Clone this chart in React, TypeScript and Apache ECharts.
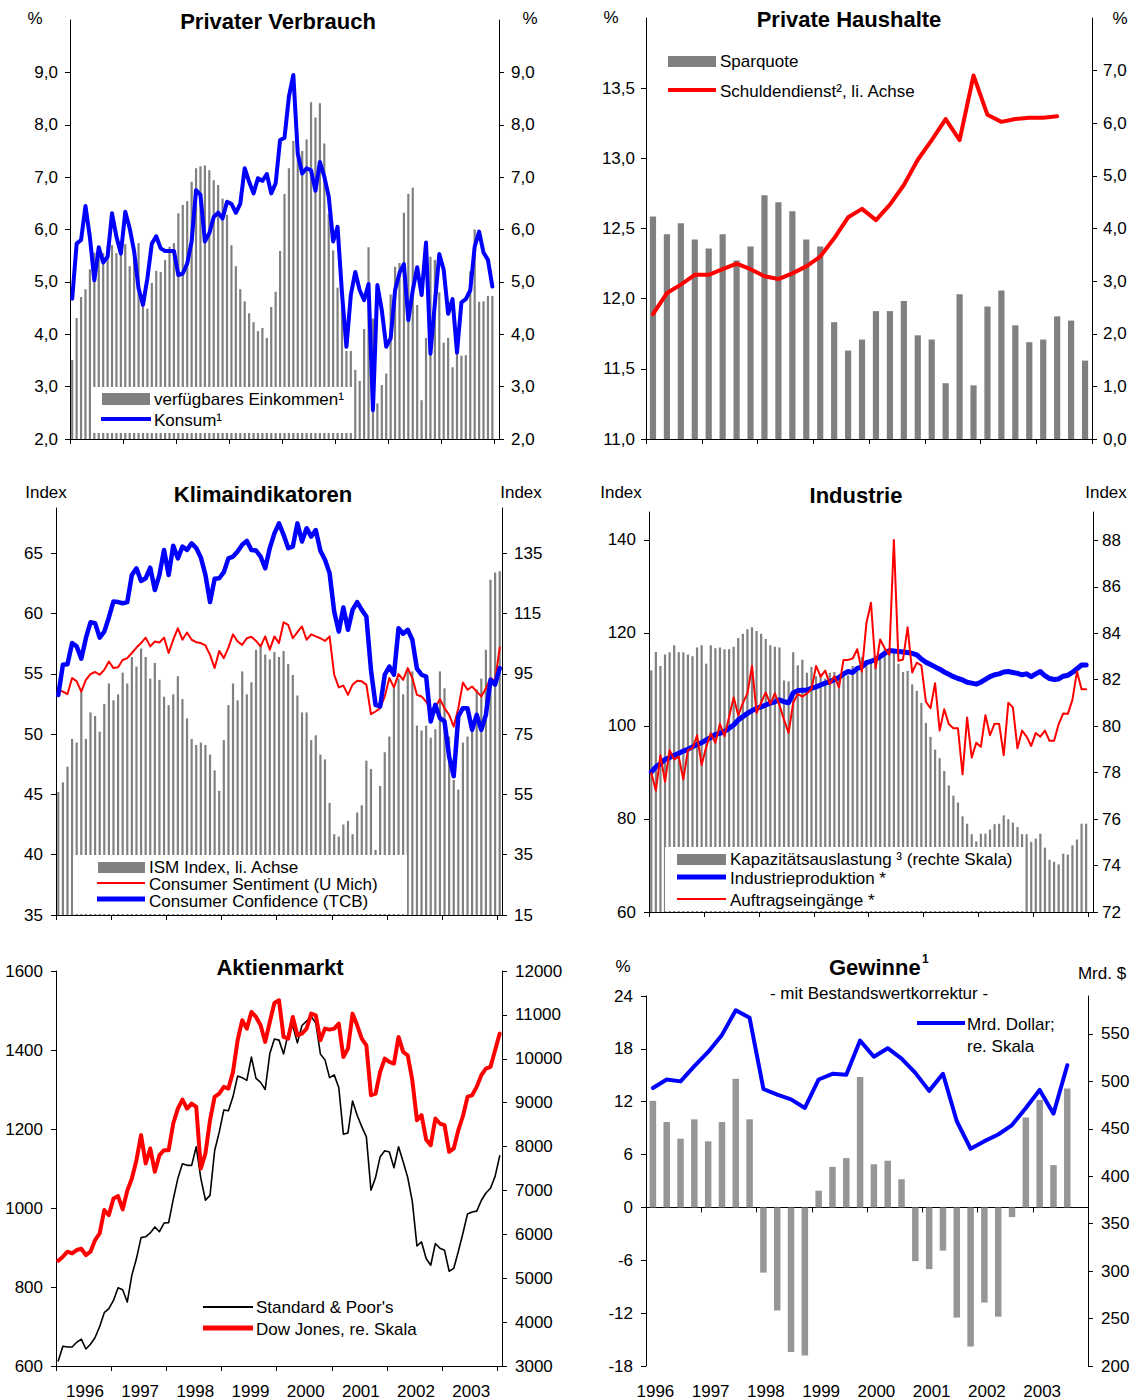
import React, { useEffect, useRef } from "react";
import * as echarts from "echarts";

const FONT = '"Liberation Sans", Arial, Helvetica, sans-serif';

// ---------- Panel 1: Privater Verbrauch (monthly, % y/y) ----------
const einkommen = [
  3.51, 4.31, 4.71, 4.86, 5.24, 5.56, 5.45, 5.55, 5.7, 5.7, 5.55, 5.7,
  5.72, 5.3, 5.6, 5.74, 4.52, 4.49, 4.98, 5.21, 5.19, 5.42, 5.67, 5.74,
  6.31, 6.47, 6.54, 6.91, 7.17, 7.21, 7.22, 7.13, 6.94, 6.85, 6.59, 6.28,
  5.7, 5.3, 4.86, 4.63, 4.4, 4.23, 4.06, 4.12, 3.93, 4.52, 4.81, 5.59,
  6.68, 7.17, 7.69, 7.47, 7.5, 7.72, 8.43, 8.14, 8.41, 7.64, 6.3, 5.6,
  4.89, 4.9, 3.68, 3.68, 3.32, 3.11, 4.1, 5.66, 4.3, 2.68, 3.03, 3.25,
  4.76, 5.29, 5.36, 6.32, 6.68, 6.8, 4.56, 2.74, 3.93, 5.48, 5.42, 4.8,
  3.84, 3.93, 3.37, 3.63, 3.59, 3.6, 5.2, 6.0, 4.62, 4.63, 4.73, 4.73,
];
const konsum = [
  4.68, 5.73, 5.8, 6.45, 5.85, 5.03, 5.66, 5.37, 5.48, 6.31, 5.86, 5.54,
  6.34, 6.02, 5.58, 4.88, 4.56, 5.07, 5.73, 5.87, 5.64, 5.59, 5.59, 5.59,
  5.13, 5.16, 5.35, 5.77, 6.75, 6.66, 5.77, 5.93, 6.24, 6.32, 6.21, 6.53,
  6.49, 6.32, 6.49, 7.17, 6.91, 6.69, 6.98, 6.93, 7.06, 6.69, 6.88, 7.71,
  7.75, 8.54, 8.95, 7.45, 7.07, 7.17, 7.13, 6.74, 7.29, 7.01, 6.63, 5.77,
  6.05, 4.78, 3.76, 4.75, 5.19, 4.84, 4.65, 4.96, 2.55, 4.94, 4.46, 3.76,
  3.92, 4.84, 5.17, 5.34, 4.27, 4.84, 5.28, 4.75, 5.75, 3.63, 4.59, 5.53,
  5.23, 4.39, 4.67, 3.65, 4.61, 4.67, 4.84, 5.67, 5.96, 5.56, 5.42, 4.91,
];

// ---------- Panel 2: Private Haushalte (quarterly) ----------
const sparquote = [
  4.23, 3.89, 4.1, 3.79, 3.62, 3.89, 3.39, 3.66, 4.63, 4.5, 4.33, 3.79,
  3.66, 2.22, 1.68, 1.89, 2.43, 2.43, 2.62, 1.97, 1.89, 1.06, 2.75, 1.02,
  2.52, 2.82, 2.16, 1.84, 1.89, 2.33, 2.25, 1.49,
];
const schuldendienst = [
  11.89, 12.04, 12.1, 12.17, 12.17, 12.21, 12.25, 12.21, 12.16, 12.14,
  12.18, 12.23, 12.3, 12.43, 12.58, 12.64, 12.56, 12.67, 12.81, 12.99,
  13.13, 13.28, 13.13, 13.59, 13.31, 13.26, 13.28, 13.29, 13.29, 13.3,
];

// ---------- Panel 3: Klimaindikatoren (monthly) ----------
const ism = [
  45.2, 46.0, 47.3, 49.6, 49.3, 53.5, 49.6, 51.8, 51.5, 50.2, 52.5, 54.2,
  52.8, 53.3, 55.1, 54.2, 56.4, 55.6, 57.1, 56.4, 54.6, 55.9, 54.5, 53.1,
  52.4, 53.3, 54.8, 52.9, 51.3, 49.6, 49.1, 49.3, 49.1, 48.3, 47.0, 45.3,
  49.5, 52.4, 54.2, 52.8, 55.2, 53.3, 54.3, 57.0, 57.4, 56.6, 56.2, 56.8,
  56.4, 56.9, 55.8, 54.9, 53.2, 51.8, 51.8, 49.5, 49.9, 48.3, 47.9, 44.3,
  41.7, 41.5, 42.5, 42.8, 41.7, 43.5, 44.1, 47.8, 47.1, 40.4, 45.7, 48.5,
  49.8, 54.0, 54.6, 53.3, 55.3, 55.2, 50.7, 50.3, 50.7, 49.7, 50.4, 55.2,
  53.8, 49.8, 46.2, 45.4, 49.3, 49.8, 50.6, 53.7, 54.6, 57.0, 62.8, 63.4,
  63.5,
];
const sentiment = [
  89.7, 89.1, 88.3, 93.6, 92.5, 89.1, 93.0, 94.9, 95.6, 94.7, 96.3, 99.1,
  96.9, 97.2, 99.6, 100.2, 101.9, 103.7, 105.2, 107.0, 104.1, 105.7, 105.4, 107.0,
  101.9, 106.3, 110.1, 106.3, 108.7, 106.3, 105.5, 105.2, 104.4, 101.3, 96.9, 102.6,
  100.2, 103.7, 108.1, 105.7, 104.6, 106.8, 107.3, 105.9, 104.1, 107.4, 103.0, 107.4,
  105.2, 112.1, 111.2, 106.8, 108.8, 110.7, 106.3, 108.1, 107.4, 106.8, 105.9, 107.4,
  94.7, 90.5, 91.1, 88.0, 91.4, 92.7, 92.5, 91.4, 81.6, 82.5, 83.6, 87.5,
  93.6, 90.5, 94.9, 93.0, 96.9, 93.6, 88.0, 87.5, 85.8, 83.1, 83.8, 86.6,
  83.6, 81.4, 77.5, 83.6, 92.1, 89.7, 90.8, 89.1, 87.5, 90.2, 93.6, 92.7,
  103.7,
];
const confidence = [
  88.0, 98.0, 98.2, 105.2, 104.1, 100.0, 106.8, 112.1, 111.8, 107.0, 109.0, 113.7,
  119.0, 118.8, 118.4, 118.8, 127.8, 130.0, 125.8, 126.7, 130.2, 122.8, 127.8, 136.1,
  127.8, 137.5, 133.3, 137.2, 136.1, 138.3, 136.7, 133.6, 127.8, 118.8, 126.5, 126.7,
  128.7, 133.3, 133.9, 135.6, 137.8, 139.1, 136.1, 135.9, 133.9, 130.0, 136.7, 141.6,
  144.9, 141.1, 136.7, 137.2, 144.9, 138.9, 143.3, 140.5, 142.7, 135.8, 132.8, 128.4,
  115.7, 109.0, 117.0, 109.6, 116.2, 118.8, 116.2, 114.0, 96.3, 84.7, 84.2, 94.7,
  97.4, 94.7, 110.1, 108.3, 109.6, 106.3, 96.7, 94.7, 94.1, 79.2, 84.7, 80.3,
  79.2, 67.6, 61.0, 80.9, 83.6, 83.6, 76.4, 81.4, 76.4, 81.4, 93.0, 91.4,
  96.9,
];

// ---------- Panel 4: Industrie (monthly) ----------
const kapazitaet = [
  82.4, 83.19, 82.59, 83.09, 83.18, 83.48, 83.18, 83.18, 83.09, 83.01, 83.39, 83.48,
  82.69, 83.48, 83.35, 83.39, 83.31, 83.31, 83.42, 83.8, 83.98, 84.17, 84.26, 84.1,
  83.98, 83.75, 83.48, 83.42, 83.39, 81.97, 81.93, 83.18, 82.62, 82.86, 82.3, 82.55,
  82.15, 82.26, 82.05, 82.3, 82.33, 82.22, 82.29, 82.19, 82.59, 82.55, 82.98, 82.85,
  82.83, 82.91, 83.05, 83.34, 83.34, 83.19, 82.69, 82.33, 82.38, 81.8, 81.52, 81.0,
  80.14, 79.54, 78.99, 78.62, 78.07, 77.45, 77.01, 76.71, 76.12, 75.8, 75.35, 75.04,
  75.37, 75.37, 75.55, 75.78, 75.8, 76.16, 75.99, 75.85, 75.66, 75.35, 75.35, 75.02,
  75.16, 75.37, 74.77, 74.25, 74.16, 74.05, 74.51, 74.47, 74.87, 75.12, 75.8, 75.8,
];
const produktion = [
  90.1, 91.2, 91.9, 92.8, 93.2, 93.7, 94.1, 94.6, 95.0, 95.5, 96.0, 96.4,
  97.0, 97.5, 98.2, 98.4, 98.8, 99.5, 100.2, 101.3, 102.0, 102.7, 103.3, 103.8,
  104.1, 104.5, 104.9, 105.2, 105.6, 105.2, 105.0, 107.1, 107.6, 107.7, 107.7, 108.1,
  108.4, 108.8, 109.2, 109.5, 110.0, 110.4, 111.2, 111.7, 111.5, 112.4, 112.7, 113.6,
  113.9, 114.3, 114.9, 115.6, 116.2, 116.1, 116.0, 115.9, 115.8, 115.6, 115.3, 114.4,
  113.7, 113.2, 112.7, 112.2, 111.6, 111.1, 110.6, 110.2, 109.9, 109.4, 109.2, 109.0,
  109.4, 110.0, 110.6, 111.0, 111.2, 111.6, 111.7, 111.5, 111.3, 111.0, 111.2, 110.6,
  111.2, 111.7, 110.8, 110.2, 110.0, 110.1, 110.7, 110.9, 111.5, 112.3, 113.1, 113.1,
];
const auftraege = [
  89.9, 86.1, 93.7, 88.0, 94.8, 92.8, 93.4, 88.5, 94.8, 95.2, 98.0, 91.6,
  95.5, 98.4, 96.4, 100.4, 97.8, 102.0, 106.1, 102.3, 104.9, 107.0, 112.9, 102.8,
  105.0, 107.2, 104.7, 107.0, 104.5, 101.3, 98.5, 105.0, 106.9, 106.3, 107.0, 107.9,
  112.9, 110.6, 111.9, 109.0, 110.7, 108.3, 114.2, 114.2, 114.5, 116.5, 111.7, 122.1,
  126.5, 112.4, 118.6, 116.7, 115.3, 140.0, 114.0, 114.3, 121.2, 111.5, 113.6, 113.0,
  105.2, 103.8, 109.2, 99.0, 103.6, 100.4, 99.5, 99.5, 89.6, 101.8, 93.2, 96.4,
  95.5, 102.3, 98.0, 100.5, 100.4, 93.7, 105.0, 104.0, 95.2, 99.0, 97.7, 95.7,
  98.5, 97.7, 99.0, 96.8, 96.8, 100.4, 102.7, 102.6, 105.6, 111.7, 107.9, 107.9,
];

// ---------- Panel 5: Aktienmarkt (monthly) ----------
const sp500 = [
  613, 650, 648, 648, 660, 668, 643, 655, 672, 700, 735, 745,
  766, 798, 793, 762, 830, 872, 925, 927, 937, 952, 940, 962,
  963, 1022, 1075, 1112, 1108, 1108, 1155, 1075, 1020, 1032, 1145, 1192,
  1248, 1246, 1282, 1334, 1330, 1323, 1382, 1328, 1318, 1300, 1391, 1428,
  1425, 1390, 1442, 1461, 1418, 1462, 1473, 1485, 1468, 1390, 1375, 1330,
  1337, 1305, 1187, 1190, 1271, 1235, 1206, 1180, 1045, 1077, 1130, 1145,
  1142, 1102, 1155, 1117, 1077, 1016, 904, 914, 872, 855, 910, 898,
  893, 840, 847, 890, 936, 985, 990, 992, 1019, 1038, 1050, 1080,
  1132,
];
const dowJones = [
  5399, 5490, 5604, 5566, 5642, 5672, 5528, 5604, 5870, 6021, 6553, 6439,
  6818, 6871, 6568, 6993, 7273, 7690, 8260, 7615, 7956, 7425, 7804, 7918,
  7918, 8525, 8866, 9071, 8866, 8980, 8904, 7501, 7842, 8601, 9132, 9208,
  9360, 9322, 9701, 10422, 10877, 10687, 11067, 10953, 10763, 10384, 10839, 11272,
  11332, 10498, 10460, 10953, 10536, 10574, 10687, 11029, 10991, 10422, 10687, 10665,
  10687, 10801, 10042, 10232, 11029, 10763, 10460, 10308, 9170, 9208, 9701, 10005,
  9929, 9891, 10498, 10156, 10080, 9511, 8601, 8715, 8161, 8032, 8639, 8525,
  8487, 7880, 7956, 8373, 8692, 9132, 9170, 9360, 9625, 9777, 9815, 10194,
  10574,
];

// ---------- Panel 6: Gewinne (quarterly) ----------
const gewinneProzent = [
  12.1, 9.7, 7.8, 10.0, 7.5, 9.7, 14.6, 10.0, -7.4, -11.7, -16.4, -16.8,
  1.9, 4.6, 5.6, 14.8, 4.9, 5.3, 3.2, -6.1, -7.0, -4.9, -12.5, -15.8,
  -10.8, -12.4, -1.1, 10.2, 12.2, 4.8, 13.5,
];
const gewinneMrd = [
  493, 502, 500, 516, 531, 549, 575, 567, 492, 486, 481, 472,
  502, 508, 507, 543, 526, 535, 524, 509, 490, 508, 458, 429,
  437, 444, 454, 472, 491, 466, 517,
];

const firstYear = 1996;
const yearCount = 8;

// tick values
const p1Ticks = [2, 3, 4, 5, 6, 7, 8, 9];
const p2LeftTicks = [11, 11.5, 12, 12.5, 13, 13.5];
const p2RightTicks = [0, 1, 2, 3, 4, 5, 6, 7];
const p3LeftTicks = [35, 40, 45, 50, 55, 60, 65];
const p3RightTicks = [15, 35, 55, 75, 95, 115, 135];
const p4LeftTicks = [60, 80, 100, 120, 140];
const p4RightTicks = [72, 74, 76, 78, 80, 82, 84, 86, 88];
const p5LeftTicks = [600, 800, 1000, 1200, 1400, 1600];
const p5RightTicks = [3000, 4000, 5000, 6000, 7000, 8000, 9000, 10000, 11000, 12000];
const p6LeftTicks = [-18, -12, -6, 0, 6, 12, 18, 24];
const p6RightTicks = [200, 250, 300, 350, 400, 450, 500, 550];

const pts = (arr: number[]) => arr.map((v, i) => [i + 0.5, v]);
const steps = (max: number, step: number) => {
  const r: number[] = [];
  for (let v = 0; v <= max + 1e-9; v += step) r.push(v);
  return r;
};
const comma1 = (v: number) => v.toFixed(1).replace(".", ",");
const plain = (v: number) => String(Math.round(v));

const BLACK = "#000";

function xTickAxis(gridIndex: number, max: number, step: number, onZero = false) {
  return {
    type: "value",
    gridIndex,
    min: 0,
    max,
    position: "bottom",
    axisLine: { show: true, onZero, lineStyle: { color: BLACK, width: 1 } },
    axisTick: { show: true, length: 5, customValues: steps(max, step), lineStyle: { color: BLACK } },
    axisLabel: { show: false },
    splitLine: { show: false },
  };
}

function xLabelAxis(gridIndex: number, max: number, positions: number[], toYear: (v: number) => string, margin: number) {
  return {
    type: "value",
    gridIndex,
    min: 0,
    max,
    position: "bottom",
    axisLine: { show: false, onZero: false },
    axisTick: { show: false },
    axisLabel: {
      show: true,
      customValues: positions,
      formatter: toYear,
      color: BLACK,
      fontSize: 17,
      fontFamily: FONT,
      margin,
    },
    splitLine: { show: false },
  };
}

function yAx(gridIndex: number, position: string, min: number, max: number, ticks: number[], fmt: (v: number) => string, margin: number) {
  return {
    type: "value",
    gridIndex,
    position,
    min,
    max,
    axisLine: { show: true, onZero: false, lineStyle: { color: BLACK, width: 1 } },
    axisTick: { show: true, length: 5, customValues: ticks, lineStyle: { color: BLACK } },
    axisLabel: {
      show: true,
      customValues: ticks,
      formatter: fmt,
      color: BLACK,
      fontSize: 17,
      fontFamily: FONT,
      margin,
    },
    splitLine: { show: false },
  };
}

function txt(x: number, y: number, text: string, opts: any = {}) {
  const align = opts.align || "left";
  return {
    type: "text",
    x,
    y,
    z: 100,
    silent: true,
    style: {
      text,
      fill: BLACK,
      fontSize: opts.fontSize || 17,
      fontWeight: opts.bold ? "bold" : "normal",
      fontFamily: FONT,
      align,
      verticalAlign: "middle",
      textAlign: align,
      textVerticalAlign: "middle",
    },
  };
}
function rect(x: number, y: number, w: number, h: number, fill: string) {
  return { type: "rect", z: 99, silent: true, shape: { x, y, width: w, height: h }, style: { fill, stroke: null } };
}
function seg(x1: number, x2: number, y: number, color: string, width: number) {
  return { type: "line", z: 100, silent: true, shape: { x1, y1: y, x2, y2: y }, style: { stroke: color, lineWidth: width } };
}

function lineSeries(x: number, y: number, data: number[][], color: string, width: number) {
  return {
    type: "line",
    xAxisIndex: x,
    yAxisIndex: y,
    data,
    symbol: "none",
    smooth: false,
    lineStyle: { color, width, cap: "round", join: "round" },
    itemStyle: { color },
    z: 3,
  };
}
function barSeries(x: number, y: number, data: number[][], color: string, width: number) {
  return {
    type: "bar",
    xAxisIndex: x,
    yAxisIndex: y,
    data,
    barWidth: width,
    itemStyle: { color },
    z: 2,
  };
}

const GREY = "#808080";

function buildOption() {
  const yearOf = (per: number) => (v: number) => String(firstYear + Math.floor(v / per + 1e-6));
  const p5Labels = Array.from({ length: yearCount }, (_, k) => 12 * k + 6.3);
  const p6Labels = Array.from({ length: yearCount }, (_, k) => 4 * k + 0.68);

  return {
    animation: false,
    backgroundColor: "#ffffff",
    textStyle: { fontFamily: FONT, color: BLACK },
    grid: [
      { left: 70, top: 20, width: 429, height: 419, containLabel: false },
      { left: 646, top: 18, width: 446, height: 421, containLabel: false },
      { left: 56, top: 508, width: 446, height: 407, containLabel: false },
      { left: 649, top: 512, width: 444, height: 400, containLabel: false },
      { left: 56, top: 971, width: 446, height: 395, containLabel: false },
      { left: 646, top: 996, width: 442, height: 370, containLabel: false },
    ],
    xAxis: [
      xTickAxis(0, 97, 12),
      xTickAxis(1, 32, 4),
      xTickAxis(2, 97, 12),
      xTickAxis(3, 97, 12),
      xTickAxis(4, 97, 12),
      xLabelAxis(4, 97, p5Labels, yearOf(12), 17),
      xTickAxis(5, 32, 4, true),
      xLabelAxis(5, 32, p6Labels, yearOf(4), 17),
    ],
    yAxis: [
      yAx(0, "left", 2, 10, p1Ticks, comma1, 12),
      yAx(0, "right", 2, 10, p1Ticks, comma1, 12),
      yAx(1, "left", 11, 14, p2LeftTicks, comma1, 11),
      yAx(1, "right", 0, 8, p2RightTicks, comma1, 11),
      yAx(2, "left", 35, 68.75, p3LeftTicks, plain, 13),
      yAx(2, "right", 15, 150, p3RightTicks, plain, 12),
      yAx(3, "left", 60, 146, p4LeftTicks, plain, 13),
      yAx(3, "right", 72, 89.22, p4RightTicks, plain, 9),
      yAx(4, "left", 600, 1600, p5LeftTicks, plain, 13),
      yAx(4, "right", 3000, 12000, p5RightTicks, plain, 13),
      yAx(5, "left", -18, 24, p6LeftTicks, plain, 13),
      yAx(5, "right", 200, 590, p6RightTicks, plain, 13),
    ],
    series: [
      // P1
      barSeries(0, 0, pts(einkommen), GREY, 2.2),
      lineSeries(0, 0, pts(konsum), "#0000ff", 4),
      // P2
      barSeries(1, 3, pts(sparquote), GREY, 6.2),
      lineSeries(1, 2, pts(schuldendienst), "#ff0000", 4),
      // P3
      barSeries(2, 4, pts(ism), GREY, 2.2),
      lineSeries(2, 5, pts(sentiment), "#ff0000", 2),
      lineSeries(2, 5, pts(confidence), "#0000ff", 4.5),
      // P4
      barSeries(3, 7, pts(kapazitaet), GREY, 2.2),
      lineSeries(3, 6, pts(produktion), "#0000ff", 5),
      lineSeries(3, 6, pts(auftraege), "#ff0000", 2),
      // P5
      lineSeries(4, 8, pts(sp500), "#000000", 1.6),
      lineSeries(4, 9, pts(dowJones), "#ff0000", 4),
      // P6
      barSeries(6, 10, pts(gewinneProzent), "#969696", 6.5),
      lineSeries(6, 11, pts(gewinneMrd), "#0000ff", 4),
    ],
    graphic: [
      // Panel 1
      txt(278, 21, "Privater Verbrauch", { bold: true, fontSize: 22, align: "center" }),
      txt(35, 18, "%", { align: "center" }),
      txt(530, 18, "%", { align: "center" }),
      rect(92, 387, 261, 46, "#ffffff"),
      rect(102, 393, 48, 12, GREY),
      txt(154, 399, "verfügbares Einkommen¹"),
      seg(101, 151, 419, "#0000ff", 4),
      txt(154, 420, "Konsum¹"),
      // Panel 2
      txt(849, 19, "Private Haushalte", { bold: true, fontSize: 22, align: "center" }),
      txt(611, 17, "%", { align: "center" }),
      txt(1120, 18, "%", { align: "center" }),
      rect(668, 56, 48, 11, GREY),
      txt(720, 61, "Sparquote"),
      seg(668, 716, 90, "#ff0000", 4),
      txt(720, 91, "Schuldendienst², li. Achse"),
      // Panel 3
      txt(263, 494, "Klimaindikatoren", { bold: true, fontSize: 22, align: "center" }),
      txt(46, 492, "Index", { align: "center" }),
      txt(521, 492, "Index", { align: "center" }),
      rect(73, 855, 334, 59, "#ffffff"),
      rect(98, 862, 47, 11, GREY),
      txt(149, 867, "ISM Index, li. Achse"),
      seg(97, 145, 883, "#ff0000", 2),
      txt(149, 884, "Consumer Sentiment (U Mich)"),
      seg(97, 145, 899, "#0000ff", 5),
      txt(149, 901, "Consumer Confidence (TCB)"),
      // Panel 4
      txt(856, 495, "Industrie", { bold: true, fontSize: 22, align: "center" }),
      txt(621, 492, "Index", { align: "center" }),
      txt(1106, 492, "Index", { align: "center" }),
      rect(665, 847, 359, 64, "#ffffff"),
      rect(677, 854, 49, 11, GREY),
      txt(730, 859, "Kapazitätsauslastung ³ (rechte Skala)"),
      seg(677, 726, 877, "#0000ff", 5),
      txt(730, 878, "Industrieproduktion *"),
      seg(677, 726, 899, "#ff0000", 2),
      txt(730, 900, "Auftragseingänge *"),
      // Panel 5
      txt(280, 967, "Aktienmarkt", { bold: true, fontSize: 22, align: "center" }),
      seg(203, 253, 1307, "#000000", 2),
      txt(256, 1307, "Standard & Poor's"),
      seg(203, 253, 1328, "#ff0000", 5),
      txt(256, 1329, "Dow Jones, re. Skala"),
      // Panel 6
      txt(829, 967, "Gewinne", { bold: true, fontSize: 22 }),
      txt(922, 959, "1", { bold: true, fontSize: 12 }),
      txt(879, 993, "- mit Bestandswertkorrektur -", { align: "center" }),
      txt(623, 966, "%", { align: "center" }),
      txt(1102, 973, "Mrd. $", { align: "center" }),
      seg(917, 965, 1023, "#0000ff", 4),
      txt(967, 1024, "Mrd. Dollar;"),
      txt(967, 1046, "re. Skala"),
    ],
  };
}

export default function App() {
  const ref = useRef<HTMLDivElement>(null);
  useEffect(() => {
    if (!ref.current) return;
    const chart = echarts.init(ref.current, null, { renderer: "svg" });
    chart.setOption(buildOption() as any);
    return () => chart.dispose();
  }, []);
  return (
    <div
      ref={ref}
      style={{ position: "absolute", left: 0, top: 0, width: 1134, height: 1400, background: "#fff" }}
    />
  );
}
